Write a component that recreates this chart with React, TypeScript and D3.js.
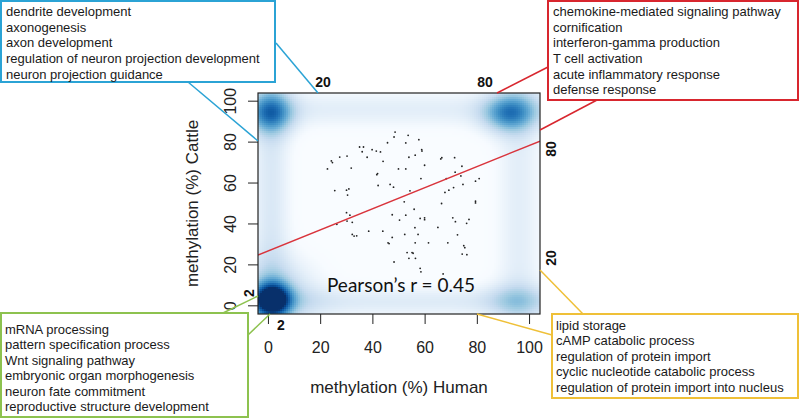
import React, { useMemo } from 'react';
import * as d3 from 'd3';

const W = 800;
const H = 419;

const xTicks = [0, 20, 40, 60, 80, 100];
const yTicks = [0, 20, 40, 60, 80, 100];
const xTitle = 'methylation (%) Human';
const yTitle = 'methylation (%) Cattle';
const pearsonLabel = 'Pearson\u2019s r = 0.45';

const regIntercept = 26.9;
const regSlope = 0.515;

const blueTerms = [
  'dendrite development',
  'axonogenesis',
  'axon development',
  'regulation of neuron projection development',
  'neuron projection guidance',
];
const redTerms = [
  'chemokine-mediated signaling pathway',
  'cornification',
  'interferon-gamma production',
  'T cell activation',
  'acute inflammatory response',
  'defense response',
];
const greenTerms = [
  'mRNA processing',
  'pattern specification process',
  'Wnt signaling pathway',
  'embryonic organ morphogenesis',
  'neuron fate commitment',
  'reproductive structure development',
];
const yellowTerms = [
  'lipid storage',
  'cAMP catabolic process',
  'regulation of protein import',
  'cyclic nucleotide catabolic process',
  'regulation of protein import into nucleus',
];

// density blobs: [x, y, sdX, sdY, weight]
const densityBlobs: number[][] = [
  [1.5, 3, 4.8, 5.5, 0.85],
  [3, 6, 11, 12, 0.24],
  [1, 94, 6, 7, 0.5],
  [92, 94, 7, 6.5, 0.5],
  [94, 3, 8, 6, 0.16],
];
// bands: [axis 0=x 1=y, center, sd, weight]
const densityBands: number[][] = [
  [0, 1, 5, 0.16],
  [1, 2, 5, 0.14],
  [0, 96, 6, 0.12],
  [1, 96, 6, 0.12],
];
const densityBase = 0.08;

const points: number[][] = [
  [48.5, 84.9], [48.1, 82.5], [53.5, 83.3], [57.6, 81.2], [52.6, 79.6], [45.6, 79.7],
  [34.9, 77.6], [36.4, 77.6], [35.9, 75.3], [39.7, 76.3], [41.3, 75.6], [42.9, 75.2],
  [58.7, 76.3], [58.8, 75.6], [27.3, 72.7], [30.1, 73.2], [37.8, 72.6], [53.8, 72.6],
  [56.2, 73.6], [66.4, 72.4], [66.0, 71.8], [71.3, 72.4], [24.1, 70.8], [24.5, 70.0],
  [43.9, 70.6], [59.8, 68.7], [74.1, 68.2], [22.6, 66.9], [31.7, 67.3], [49.8, 66.9],
  [52.6, 66.9], [41.8, 64.6], [41.5, 64.1], [71.5, 65.3], [73.7, 63.5], [58.4, 62.2],
  [68.1, 62.2], [80.7, 62.2], [79.3, 60.9], [42.0, 58.8], [46.6, 59.3], [47.9, 58.0],
  [74.5, 59.3], [70.9, 57.8], [25.4, 56.3], [29.9, 56.5], [30.8, 57.1], [54.2, 56.2],
  [69.1, 56.5], [67.6, 55.4], [30.3, 54.1], [52.0, 50.8], [66.3, 50.0], [79.3, 51.1],
  [79.3, 50.3], [55.8, 47.2], [29.9, 45.5], [31.2, 44.3], [47.4, 44.5], [50.2, 41.9],
  [52.6, 44.3], [58.1, 42.7], [59.8, 43.0], [59.8, 42.1], [70.6, 43.0], [71.6, 41.1],
  [76.8, 42.2], [75.9, 40.3], [32.1, 40.8], [26.2, 39.8], [30.1, 41.4], [56.1, 38.2],
  [64.9, 38.3], [38.4, 36.5], [43.8, 36.5], [52.2, 34.9], [57.3, 34.9], [72.4, 34.7],
  [32.1, 34.9], [32.8, 34.1], [33.8, 34.2], [47.4, 33.4], [45.8, 30.8], [46.2, 30.4],
  [56.2, 30.8], [61.3, 30.8], [68.7, 30.8], [74.8, 29.4], [75.2, 28.4], [53.1, 26.0],
  [55.0, 26.0], [55.4, 25.7], [74.2, 25.3], [76.0, 25.0], [53.8, 23.2], [56.3, 23.2],
  [48.1, 21.4], [58.1, 18.3], [58.4, 16.6], [66.9, 15.6],
];

const bluesRamp = ['#FFFFFF', '#F7FBFF', '#DEEBF7', '#C6DBEF', '#9ECAE1', '#6BAED6', '#4292C6', '#2171B5', '#08519C', '#08306B'];

const PL = 258, PR = 540, PT = 93, PB = 314;
const FONT = '"Liberation Sans", Arial, Helvetica, sans-serif';

const BLUE = '#2ba3d5';
const RED = '#d8262e';
const GREEN = '#8dc24f';
const YELLOW = '#efc038';

function TermBox({ x, y, w, h, color, terms, tx, ty0, dy }: any) {
  return (
    <g>
      <rect x={x} y={y} width={w} height={h} fill="#fff" stroke={color} strokeWidth={2} />
      {terms.map((t: string, i: number) => (
        <text key={i} x={tx} y={ty0 + i * dy} dy="0.35em" fontFamily={FONT} fontSize={13} fill="#1a1a1a">
          {t}
        </text>
      ))}
    </g>
  );
}

export default function App() {
  const x = d3.scaleLinear().domain([-4, 104]).range([PL, PR]);
  const y = d3.scaleLinear().domain([-4, 104]).range([PB, PT]);

  const cells = useMemo(() => {
    const color = d3.scaleLinear<string>().domain(bluesRamp.map((_, i) => i / (bluesRamp.length - 1))).range(bluesRamp).clamp(true);
    const out: { px: number; py: number; c: string }[] = [];
    const step = 2;
    for (let py = PT; py < PB; py += step) {
      for (let px = PL; px < PR; px += step) {
        const dx = x.invert(px + step / 2);
        const dyv = y.invert(py + step / 2);
        let t = densityBase;
        for (const [bx, by, sx, sy, w] of densityBlobs) {
          t += w * Math.exp(-0.5 * (((dx - bx) / sx) ** 2 + ((dyv - by) / sy) ** 2));
        }
        for (const [ax, c, s, w] of densityBands) {
          const v = ax === 0 ? dx : dyv;
          t += w * Math.exp(-0.5 * ((v - c) / s) ** 2);
        }
        out.push({ px, py, c: color(Math.min(1, t)) });
      }
    }
    return out;
  }, []);

  const line = d3.line<number>().x((d) => x(d)).y((d) => y(regIntercept + regSlope * d));

  return (
    <svg width={W} height={H} style={{ position: 'absolute', left: 0, top: 0, background: '#fff' }}>
      <defs>
        <clipPath id="plotclip">
          <rect x={PL} y={PT} width={PR - PL} height={PB - PT} />
        </clipPath>
      </defs>
      <g clipPath="url(#plotclip)">
        {cells.map((c, i) => (
          <rect key={i} x={c.px} y={c.py} width={2.05} height={2.05} fill={c.c} />
        ))}
        {points.map(([px, py], i) => (
          <circle key={i} cx={x(px)} cy={y(py)} r={0.9} fill="#222" />
        ))}
        <path d={line([-4, 104]) || ''} stroke="#d9343c" strokeWidth={1.4} fill="none" />
      </g>
      <rect x={PL} y={PT} width={PR - PL} height={PB - PT} fill="none" stroke="#222" strokeWidth={1.2} />

      <text x={401} y={285} dy="0.35em" textAnchor="middle" fontFamily="Lato, 'Open Sans', sans-serif" fontSize={19} fill="#111">
        {pearsonLabel}
      </text>

      {/* x axis */}
      {xTicks.map((t) => (
        <g key={t}>
          <line x1={x(t)} x2={x(t)} y1={PB} y2={PB + 10} stroke="#222" strokeWidth={1} />
          <text x={x(t)} y={347} dy="0.35em" textAnchor="middle" fontFamily={FONT} fontSize={16} fill="#222">
            {t}
          </text>
        </g>
      ))}
      <text x={(PL + PR) / 2} y={387} dy="0.35em" textAnchor="middle" fontFamily={FONT} fontSize={17} fill="#222">
        {xTitle}
      </text>

      {/* y axis */}
      {yTicks.map((t) => (
        <g key={t}>
          <line x1={PL} x2={PL - 10} y1={y(t)} y2={y(t)} stroke="#222" strokeWidth={1} />
          <text transform={`translate(230,${y(t)}) rotate(-90)`} dy="0.35em" textAnchor="middle" fontFamily={FONT} fontSize={16} fill="#222">
            {t}
          </text>
        </g>
      ))}
      <text transform={`translate(192,${(PT + PB) / 2}) rotate(-90)`} dy="0.35em" textAnchor="middle" fontFamily={FONT} fontSize={17} fill="#222">
        {yTitle}
      </text>

      {/* connectors */}
      <line x1={276} y1={43} x2={318} y2={PT} stroke={BLUE} strokeWidth={1.5} />
      <line x1={188} y1={82} x2={PL} y2={141} stroke={BLUE} strokeWidth={1.5} />
      <line x1={548} y1={67} x2={497} y2={PT} stroke={RED} strokeWidth={1.5} />
      <line x1={597} y1={100} x2={PR} y2={130} stroke={RED} strokeWidth={1.5} />
      <line x1={PR} y1={270} x2={583} y2={314} stroke={YELLOW} strokeWidth={1.5} />
      <line x1={477} y1={PB} x2={552} y2={335} stroke={YELLOW} strokeWidth={1.5} />
      <line x1={223} y1={313} x2={PL} y2={296} stroke={GREEN} strokeWidth={1.5} />
      <line x1={248} y1={335} x2={270} y2={PB} stroke={GREEN} strokeWidth={1.5} />

      {/* bold threshold labels */}
      <text x={323} y={82} dy="0.35em" textAnchor="middle" fontFamily={FONT} fontWeight="bold" fontSize={14} fill="#111">20</text>
      <text x={485} y={82} dy="0.35em" textAnchor="middle" fontFamily={FONT} fontWeight="bold" fontSize={14} fill="#111">80</text>
      <text transform="translate(551,149) rotate(-90)" dy="0.35em" textAnchor="middle" fontFamily={FONT} fontWeight="bold" fontSize={14} fill="#111">80</text>
      <text transform="translate(551,258) rotate(-90)" dy="0.35em" textAnchor="middle" fontFamily={FONT} fontWeight="bold" fontSize={14} fill="#111">20</text>
      <text transform="translate(249,293) rotate(-90)" dy="0.35em" textAnchor="middle" fontFamily={FONT} fontWeight="bold" fontSize={14} fill="#111">2</text>
      <text x={281} y={325} dy="0.35em" textAnchor="middle" fontFamily={FONT} fontWeight="bold" fontSize={14} fill="#111">2</text>

      {/* term boxes */}
      <TermBox x={1} y={1} w={274} h={81} color={BLUE} terms={blueTerms} tx={6} ty0={11.7} dy={15.6} />
      <TermBox x={548} y={1} w={250} h={99} color={RED} terms={redTerms} tx={553} ty0={11.7} dy={15.6} />
      <TermBox x={1} y={313} w={247} h={104} color={GREEN} terms={greenTerms} tx={5} ty0={329} dy={15.5} />
      <TermBox x={552} y={314} w={246} h={84} color={YELLOW} terms={yellowTerms} tx={556} ty0={325} dy={15.5} />
    </svg>
  );
}
